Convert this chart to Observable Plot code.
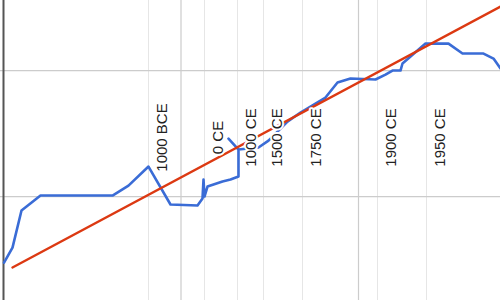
<!DOCTYPE html>
<html>
<head>
<meta charset="utf-8">
<script src="https://cdn.jsdelivr.net/npm/d3@7"></script>
<script src="https://cdn.jsdelivr.net/npm/@observablehq/plot@0.6"></script>
<style>
  html, body { margin: 0; padding: 0; background: #fff; }
  #chart svg { display: block; }
</style>
</head>
<body>
<div id="chart"></div>
<script>
// Series (x in chart units, y in chart units)
const seriesX = [0.3, 5.07, 10.14, 20.85, 61.41, 70.42, 81.69, 94.08, 109.30, 112.11, 112.68, 113.24, 114.93, 123.38, 127.89, 132.39, 132.39, 126.76, 132.39, 143.66, 149.30, 160.0, 167.32, 175.77, 181.41, 188.17, 195.49, 209.58, 215.21, 219.15, 223.66, 224.79, 237.75, 250.70, 258.59, 270.42, 276.06, 280.0];
const seriesY = [-0.525, -0.405, -0.111, 0.008, 0.008, 0.087, 0.238, -0.063, -0.071, -0.016, 0.135, 0.0, 0.079, 0.119, 0.135, 0.159, 0.373, 0.460, 0.373, 0.389, 0.444, 0.595, 0.667, 0.738, 0.786, 0.905, 0.937, 0.929, 0.968, 1.0, 1.0, 1.056, 1.214, 1.214, 1.135, 1.135, 1.095, 1.016];

// Trend line endpoints
const trendX = [5.07, 280];
const trendY = [-0.563, 1.508];

// Annotations
const annotationX = [81.69, 113.24, 131.83, 146.48, 168.45, 210.7, 238.3];
const annotationLabels = ["1000 BCE", "0 CE", "1000 CE", "1500 CE", "1750 CE", "1900 CE", "1950 CE"];

// Gridlines
const gridX = [100, 200];
const gridY = [0, 1];
const baselineX = [0];

const series = seriesX.map((x, i) => ({x, y: seriesY[i]}));
const trend = trendX.map((x, i) => ({x, y: trendY[i]}));
const annotations = annotationX.map((x, i) => ({x, label: annotationLabels[i]}));

const chart = Plot.plot({
  width: 500,
  height: 300,
  marginLeft: 0, marginRight: 0, marginTop: 0, marginBottom: 0,
  x: {domain: [0, 280], range: [3, 500], axis: null},
  y: {domain: [-0.825, 1.556], range: [300, 0], axis: null},
  style: {fontFamily: "'Liberation Sans', Arial, sans-serif", background: "#fff"},
  marks: [
    Plot.ruleX(annotations, {x: "x", stroke: "#e6e6e6", strokeWidth: 1}),
    Plot.ruleX(gridX, {stroke: "#cccccc", strokeWidth: 1.2}),
    Plot.ruleY(gridY, {stroke: "#cccccc", strokeWidth: 1.2}),
    Plot.ruleX(baselineX, {stroke: "#555", strokeWidth: 2}),
    Plot.line(series, {x: "x", y: "y", stroke: "#3a6cd6", strokeWidth: 2.6, curve: "linear", strokeLinejoin: "round"}),
    Plot.line(trend, {x: "x", y: "y", stroke: "#dc3912", strokeWidth: 2.4}),
    Plot.text(annotations, {
      x: "x", text: "label", frameAnchor: "middle", rotate: -90,
      dx: 14, dy: -13, fontSize: 15, fill: "#222",
      stroke: "white", strokeWidth: 4, textAnchor: "middle"
    })
  ]
});
document.getElementById("chart").append(chart);
</script>
</body>
</html>
